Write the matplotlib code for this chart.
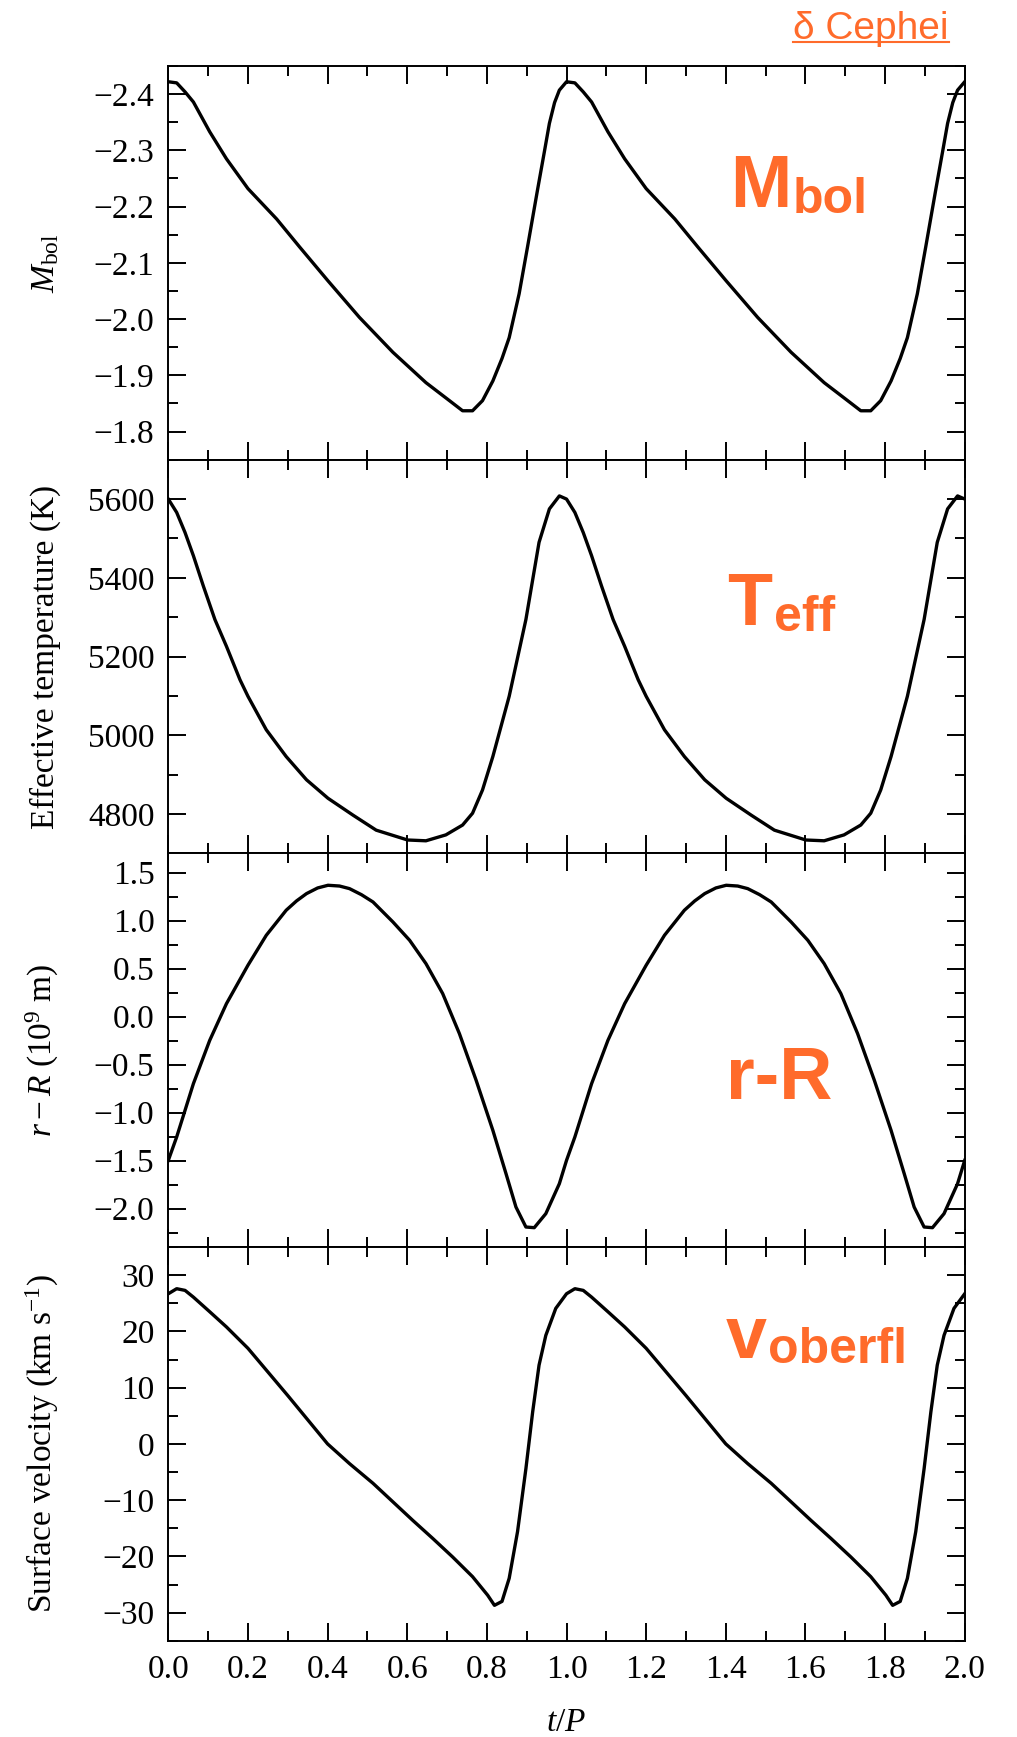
import matplotlib
matplotlib.use("Agg")
import numpy as np
import matplotlib.pyplot as plt
from matplotlib.ticker import MultipleLocator, FuncFormatter
from matplotlib.lines import Line2D

plt.rcParams["font.family"] = ["Liberation Serif", "DejaVu Serif"]
plt.rcParams["mathtext.fontset"] = "custom"
plt.rcParams["mathtext.rm"] = "Liberation Serif"
plt.rcParams["mathtext.it"] = "Liberation Serif:italic"
plt.rcParams["mathtext.bf"] = "Liberation Serif:bold"

ORANGE = "#FF6B2B"

# one pulsation cycle (t/P from 0 to 1); drawn twice
mbol_phase = [0.0, 0.021, 0.042, 0.063, 0.104, 0.146, 0.2, 0.272, 0.33, 0.401,
              0.48, 0.564, 0.647, 0.706, 0.739, 0.764, 0.789, 0.815, 0.838,
              0.856, 0.881, 0.902, 0.927, 0.945, 0.957, 0.97, 0.982, 1.0]
mbol = [-2.422, -2.42, -2.404, -2.386, -2.333, -2.285, -2.232, -2.178, -2.128,
        -2.068, -2.003, -1.941, -1.887, -1.855, -1.837, -1.837, -1.855, -1.890,
        -1.930, -1.967, -2.045, -2.128, -2.229, -2.30, -2.348, -2.385, -2.407,
        -2.422]

teff_phase = [0.0, 0.021, 0.042, 0.063, 0.088, 0.117, 0.146, 0.18, 0.2, 0.246,
              0.296, 0.347, 0.401, 0.464, 0.522, 0.601, 0.647, 0.697, 0.739,
              0.764, 0.789, 0.815, 0.856, 0.898, 0.931, 0.957, 0.982, 1.0]
teff = [5600, 5566, 5515, 5456, 5379, 5294, 5226, 5141, 5099, 5014, 4946, 4887,
        4840, 4797, 4759, 4734, 4732, 4747, 4772, 4802, 4861, 4946, 5099, 5294,
        5490, 5575, 5608, 5600]

radius_phase = [0.0, 0.021, 0.042, 0.063, 0.104, 0.146, 0.2, 0.246, 0.296, 0.322,
                0.347, 0.375, 0.401, 0.43, 0.455, 0.485, 0.514, 0.564, 0.606,
                0.647, 0.689, 0.731, 0.773, 0.815, 0.848, 0.873, 0.898, 0.919,
                0.948, 0.982, 1.0]
radius = [-1.497, -1.253, -0.976, -0.698, -0.247, 0.135, 0.535, 0.847, 1.108,
          1.205, 1.281, 1.340, 1.368, 1.360, 1.333, 1.270, 1.194, 0.986, 0.795,
          0.552, 0.24, -0.177, -0.663, -1.184, -1.635, -1.983, -2.191, -2.198,
          -2.052, -1.74, -1.497]

vel_phase = [0.0, 0.021, 0.042, 0.063, 0.104, 0.146, 0.2, 0.25, 0.3, 0.35,
             0.4, 0.455, 0.514, 0.564, 0.614, 0.664, 0.714, 0.764, 0.802,
             0.819, 0.838, 0.856, 0.877, 0.898, 0.915, 0.931, 0.948, 0.973, 1.0]
vel = [26.7, 27.6, 27.3, 26.1, 23.5, 20.8, 17.0, 12.8, 8.6, 4.3,
       0.0, -3.5, -7.0, -10.3, -13.6, -16.8, -20.1, -23.6, -26.9,
       -28.7, -28.0, -23.9, -15.6, -4.4, 5.7, 14.0, 19.3, 24.1, 26.7]

ylabels = [r"$M_{\rm bol}$", "Effective temperature (K)",
           r"$r - R$ (10$^9$ m)", r"Surface velocity (km s$^{-1}$)"]
ylims = [(-1.75, -2.45), (4700, 5700), (-2.4, 1.7), (-35, 35)]
ymajor = [0.1, 200, 0.5, 10]
yformat = ["%.1f", "%d", "%.1f", "%d"]
tags = [("M", "bol"), ("T", "eff"), ("r-R", None), ("v", "oberfl")]
tag_pos = [(0.705, 0.641), (0.702, 0.579), (0.700, 0.375), (0.700, 0.719)]


def two_cycles(phase, vals):
    phase = np.asarray(phase, float)
    vals = np.asarray(vals, float)
    x = np.concatenate([phase[:-1], phase + 1])
    y = np.concatenate([vals[:-1], vals])
    return x, y


def minus_fmt(fmt):
    def f(v, pos):
        v = round(v, 6) + 0.0
        return (fmt % v).replace("-", "\u2212")
    return FuncFormatter(f)


series = [(mbol_phase, mbol), (teff_phase, teff),
          (radius_phase, radius), (vel_phase, vel)]

fig, axes = plt.subplots(4, 1, figsize=(10.17, 17.37), dpi=100, sharex=True)
fig.subplots_adjust(left=0.1655, right=0.9486, top=0.962, bottom=0.0554,
                    hspace=0)

for i, ax in enumerate(axes):
    x, y = two_cycles(*series[i])
    ax.plot(x, y, color="black", linewidth=2.4, solid_joinstyle="round")
    ax.set_xlim(0, 2)
    ax.set_ylim(*ylims[i])
    ax.xaxis.set_major_locator(MultipleLocator(0.2))
    ax.xaxis.set_minor_locator(MultipleLocator(0.1))
    ax.yaxis.set_major_locator(MultipleLocator(ymajor[i]))
    ax.yaxis.set_minor_locator(MultipleLocator(ymajor[i] / 2))
    ax.yaxis.set_major_formatter(minus_fmt(yformat[i]))
    ax.tick_params(which="both", direction="in", top=True, right=True,
                   width=1.4, labelsize=24, pad=10)
    ax.tick_params(which="major", length=13)
    ax.tick_params(which="minor", length=7)
    for s in ax.spines.values():
        s.set_linewidth(1.4)
    ax.set_ylabel(ylabels[i], fontsize=24)
    ax.yaxis.set_label_coords(-0.135, 0.5)

    main, sub = tags[i]
    tx, ty = tag_pos[i]
    t = ax.text(tx, ty, main, transform=ax.transAxes, fontsize=53,
                fontweight="bold", family="Liberation Sans", color=ORANGE,
                ha="left", va="baseline")
    if sub:
        ax.annotate(sub, xy=(1, 0), xycoords=t, xytext=(1, 7),
                    textcoords="offset points", fontsize=36,
                    fontweight="bold", family="Liberation Sans",
                    color=ORANGE, ha="left", va="baseline")

axes[-1].xaxis.set_major_formatter(minus_fmt("%.1f"))
axes[-1].set_xlabel(r"$t/P$", fontsize=24)
axes[-1].xaxis.set_label_coords(0.5, -0.17)

title = fig.text(0.933, 1 - 39 / 1737, "δ Cephei", fontsize=28,
                 family="Liberation Sans", color=ORANGE, ha="right",
                 va="baseline")
fig.canvas.draw()
bb = title.get_window_extent()
inv = fig.transFigure.inverted()
(x0, _), (x1, _) = inv.transform([(bb.x0, 0), (bb.x1, 0)])
uy = 1 - 42 / 1737
fig.add_artist(Line2D([x0, x1], [uy, uy], transform=fig.transFigure,
                      color=ORANGE, linewidth=1.5))

fig.savefig("out.png", dpi=100)
